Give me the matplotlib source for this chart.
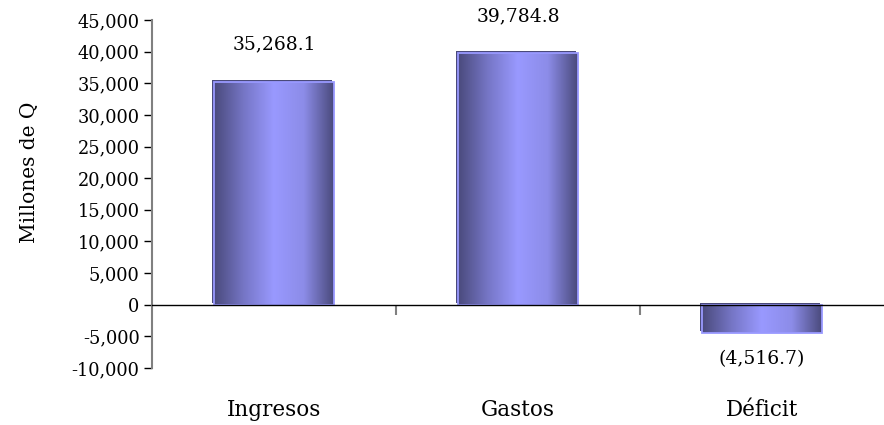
import matplotlib.pyplot as plt
import matplotlib.transforms as mtransforms
import numpy as np
from matplotlib.colors import LinearSegmentedColormap
from matplotlib.patches import Rectangle
from matplotlib.ticker import FuncFormatter

categorias = ['Ingresos', 'Gastos', 'Déficit']
valores = [35268.1, 39784.8, -4516.7]
etiquetas = ['35,268.1', '39,784.8', '(4,516.7)']

plt.rcParams['font.family'] = ['DejaVu Serif']

fig = plt.figure(figsize=(8.84, 4.25), dpi=100)
ax = fig.add_axes([0.172, 0.134, 0.828, 0.819])

x = np.arange(len(categorias))
ancho = 0.49

# degradado horizontal: oscuro en los bordes, claro al centro
cmap = LinearSegmentedColormap.from_list(
    'barra', ['#4a4a7c', '#7676c6', '#9999ff', '#8c8ce8', '#4a4a7c'])
grad = np.linspace(0, 1, 256).reshape(1, -1)

sombra = mtransforms.offset_copy(ax.transData, fig=fig, x=-2, y=2, units='dots')
barras = ax.bar(x, valores, ancho, color='none', edgecolor='#9999ff', lw=1.3, zorder=4)
for b in barras:
    x0, y0 = b.get_x(), b.get_y()
    w, h = b.get_width(), b.get_height()
    ax.add_patch(Rectangle((x0, y0), w, h, transform=sombra,
                           facecolor='#4a4a7a', edgecolor='none', zorder=2))
    im = ax.imshow(grad, cmap=cmap, aspect='auto', zorder=3,
                   extent=(x0, x0 + w, min(y0, y0 + h), max(y0, y0 + h)))
    im.set_clip_path(b)

# etiquetas de datos
for xi, v, t in zip(x, valores, etiquetas):
    off = 37 if v > 0 else -26
    ax.annotate(t, (xi, v), xytext=(0, off), textcoords='offset pixels',
                ha='center', va='center', fontsize=13.5)

ax.set_xlim(-0.5, 2.5)
ax.set_ylim(-10000, 45000)
ax.set_yticks(np.arange(-10000, 45001, 5000))
ax.yaxis.set_major_formatter(FuncFormatter(lambda v, p: f'{v:,.0f}'))
ax.tick_params(axis='y', direction='out', length=6, width=1, color='black',
               labelsize=12.8, pad=3)

ax.set_xticks([0.5, 1.5])
ax.set_xticklabels([])
ax.tick_params(axis='x', direction='out', length=7, width=1.5, color='#808080')

ax.spines['top'].set_visible(False)
ax.spines['right'].set_visible(False)
ax.spines['left'].set_color('#808080')
ax.spines['left'].set_linewidth(1.5)
ax.spines['bottom'].set_position(('data', 0))
ax.spines['bottom'].set_color('black')
ax.spines['bottom'].set_linewidth(1)
ax.spines['bottom'].set_zorder(5)

for xi, c in zip(x, categorias):
    ax.text(xi, -0.121, c, transform=ax.get_xaxis_transform(),
            ha='center', va='center', fontsize=15.5)

fig.text(30 / 884, 1 - 172 / 425, 'Millones de Q', rotation=90,
         ha='center', va='center', fontsize=14.5)

plt.savefig('out.png', dpi=100)
